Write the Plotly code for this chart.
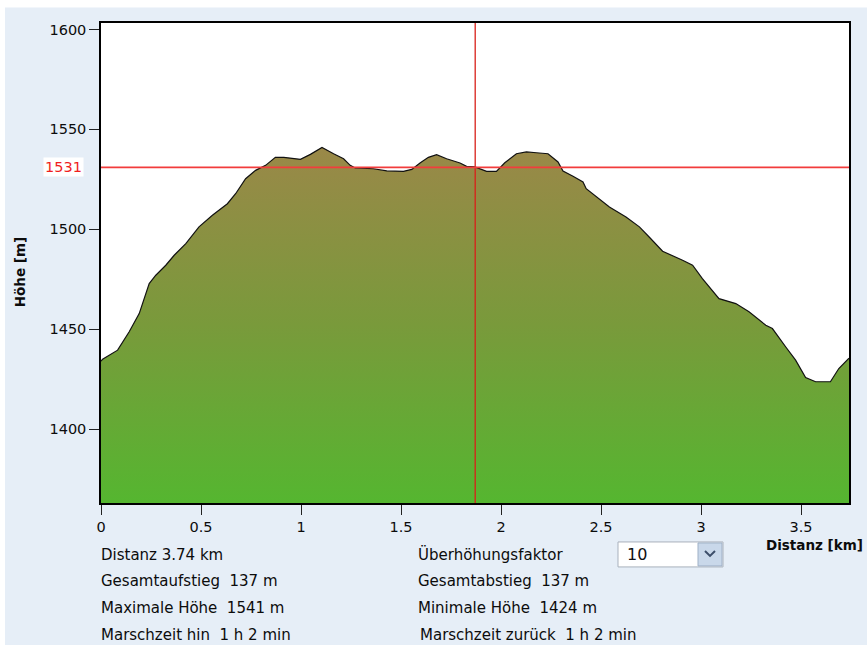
import plotly.graph_objects as go

# ---- data ----
dist_km = [0, 0.008, 0.083, 0.141, 0.191, 0.241, 0.274, 0.324, 0.366, 0.424, 0.49, 0.557,
           0.632, 0.673, 0.723, 0.773, 0.823, 0.872, 0.914, 0.997, 1.047, 1.105, 1.163,
           1.213, 1.246, 1.271, 1.362, 1.429, 1.512, 1.554, 1.595, 1.637, 1.678, 1.728,
           1.795, 1.828, 1.869, 1.928, 1.977, 2.019, 2.077, 2.127, 2.177, 2.235, 2.285,
           2.31, 2.36, 2.41, 2.426, 2.476, 2.542, 2.625, 2.692, 2.742, 2.808, 2.908, 2.958,
           3.007, 3.09, 3.174, 3.24, 3.324, 3.357, 3.423, 3.473, 3.523, 3.573, 3.647,
           3.689, 3.74]
hoehe_m = [1434, 1435, 1439.5, 1448.7, 1457.8, 1472.8, 1477, 1482, 1487, 1492.8, 1501.2, 1507,
           1512.8, 1517.8, 1525.3, 1529.5, 1532, 1536, 1536, 1535, 1537.5, 1541, 1537.8,
           1535.3, 1532, 1530.7, 1530.3, 1529.2, 1529, 1530, 1533.2, 1536, 1537.3, 1535.3,
           1533.2, 1531.5, 1531.2, 1529, 1529, 1533.3, 1537.8, 1538.7, 1538.3, 1537.8, 1533.7,
           1529.2, 1526.5, 1523.7, 1520.3, 1516.2, 1511.2, 1506.2, 1501.2, 1496, 1489, 1484.5, 1482,
           1475.3, 1465.3, 1462.8, 1458.7, 1452, 1450.3, 1441.2, 1434.5, 1425.8, 1423.7, 1423.7,
           1430.3, 1435.5]
y_ticks = [1400, 1450, 1500, 1550, 1600]
x_ticks = [0, 0.5, 1, 1.5, 2, 2.5, 3, 3.5]
x_tick_labels = ["0", "0.5", "1", "1.5", "2", "2.5", "3", "3.5"]
cursor_km = 1.871
cursor_m = 1531
info_left = ["Distanz 3.74 km", "Gesamtaufstieg \u00a0137 m", "Maximale Höhe \u00a01541 m",
             "Marschzeit hin \u00a01 h 2 min"]
info_right = ["Überhöhungsfaktor", "Gesamtabstieg \u00a0137 m", "Minimale Höhe \u00a01424 m",
              "Marschzeit zurück \u00a01 h 2 min"]
faktor = "10"

# ---- layout geometry (pixels) ----
W, H = 867, 645
L, R, T, B = 101, 849, 22.5, 503


def px(x):
    return (x - L) / (R - L)


def py(y):
    return (B - y) / (B - T)


FONT = "DejaVu Sans"
TXT = "#0c0c0c"

fig = go.Figure()
fig.add_trace(go.Scatter(
    x=dist_km, y=hoehe_m, mode="lines",
    line=dict(color="#111111", width=1.2),
    fill="tozeroy",
    fillgradient=dict(type="vertical", start=1363, stop=1541,
                      colorscale=[[0, "#55b630"], [0.5, "#799a3b"], [1, "#9a8848"]]),
    hoverinfo="skip", showlegend=False,
))

shapes = [
    dict(type="rect", xref="paper", yref="paper", x0=px(5), x1=px(868), y0=py(646), y1=py(7),
         fillcolor="#e6eef7", line=dict(width=0), layer="below"),
    dict(type="rect", xref="x domain", yref="y domain", x0=0, x1=1, y0=0, y1=1,
         fillcolor="white", line=dict(width=0), layer="below"),
    dict(type="line", xref="x", yref="y domain", x0=cursor_km, x1=cursor_km, y0=0, y1=1,
         line=dict(color="#d8201a", width=1.3)),
    dict(type="line", xref="x domain", yref="y", x0=0, x1=1, y0=cursor_m, y1=cursor_m,
         line=dict(color="#f23c3c", width=1.6)),
    # dropdown box
    dict(type="rect", xref="paper", yref="paper", x0=px(618), x1=px(723), y0=py(567), y1=py(542),
         fillcolor="white", line=dict(color="#a9b1bc", width=1)),
    dict(type="rect", xref="paper", yref="paper", x0=px(698), x1=px(722), y0=py(566), y1=py(543),
         fillcolor="#c9d8ea", line=dict(color="#9fb0c6", width=1)),
    dict(type="path", xref="paper", yref="paper",
         path=f"M {px(705)} {py(551)} L {px(710)} {py(556)} L {px(715)} {py(551)}",
         line=dict(color="#3c4e6a", width=2)),
]

ann = []
rows = [555, 581, 608, 635]
for txt, yy in zip(info_left, rows):
    ann.append(dict(xref="paper", yref="paper", x=px(99), y=py(yy), text=txt, showarrow=False,
                    xanchor="left", yanchor="middle", font=dict(family=FONT, size=15, color=TXT)))
for i, (txt, yy) in enumerate(zip(info_right, rows)):
    ann.append(dict(xref="paper", yref="paper", x=px(416 if i < 3 else 418), y=py(yy), text=txt,
                    showarrow=False, xanchor="left", yanchor="middle",
                    font=dict(family=FONT, size=15, color=TXT)))
ann.append(dict(xref="paper", yref="paper", x=px(625), y=py(555), text=faktor, showarrow=False,
                xanchor="left", yanchor="middle", font=dict(family=FONT, size=16, color="#111")))
ann.append(dict(xref="paper", yref="y", x=px(84), y=cursor_m, text=str(cursor_m), showarrow=False,
                xanchor="right", yanchor="middle", bgcolor="white", borderpad=1,
                font=dict(family=FONT, size=14.5, color="#f01e1e")))
ann.append(dict(xref="paper", yref="paper", x=px(865), y=py(545), text="<b>Distanz [km]</b>",
                showarrow=False, xanchor="right", yanchor="middle",
                font=dict(family=FONT, size=13.5, color=TXT)))
ann.append(dict(xref="paper", yref="paper", x=px(20), y=py(272), text="<b>Höhe [m]</b>",
                showarrow=False, textangle=-90, xanchor="center", yanchor="middle",
                font=dict(family=FONT, size=13.5, color=TXT)))

fig.update_layout(
    width=W, height=H,
    margin=dict(l=L, r=W - R, t=T, b=H - B, pad=0),
    paper_bgcolor="white", plot_bgcolor="white",
    shapes=shapes, annotations=ann,
    xaxis=dict(range=[0, 3.74], tickvals=x_ticks, ticktext=x_tick_labels,
               ticks="outside", ticklen=10, tickcolor="#222", tickwidth=1.3,
               showline=True, linecolor="black", linewidth=1.5, mirror=True,
               showgrid=False, zeroline=False,
               tickfont=dict(family=FONT, size=14.5, color=TXT)),
    yaxis=dict(range=[1363, 1603.25], tickvals=y_ticks,
               ticks="outside", ticklen=10, tickcolor="#222", tickwidth=1.3,
               showline=True, linecolor="black", linewidth=1.5, mirror=True,
               showgrid=False, zeroline=False,
               tickfont=dict(family=FONT, size=14.5, color=TXT)),
)

fig.write_html("out.html", config={"displayModeBar": False},
               post_script="document.body.style.margin='0';document.body.style.overflow='hidden';")
